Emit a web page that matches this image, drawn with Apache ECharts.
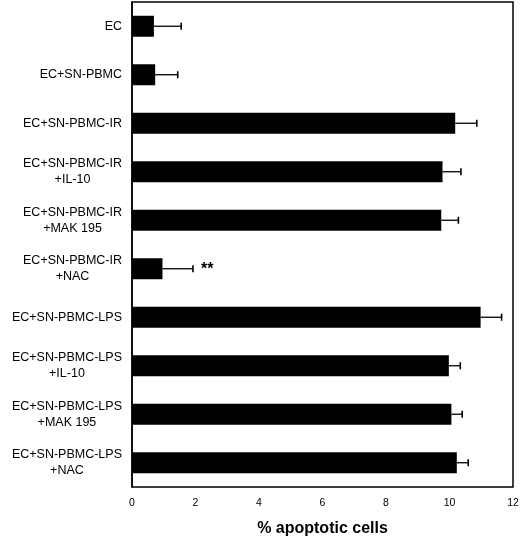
<!DOCTYPE html>
<html>
<head>
<meta charset="utf-8">
<title>apoptotic cells</title>
<script src="https://cdn.jsdelivr.net/npm/echarts@6/dist/echarts.min.js"></script>
<style>
  html, body { margin: 0; padding: 0; background: #fff; }
  #main { width: 520px; height: 537px; }
</style>
</head>
<body>
<div id="main"></div>
<script type="text/javascript">
// conditions, top to bottom
var categories = [
  'EC',
  'EC+SN-PBMC',
  'EC+SN-PBMC-IR',
  'EC+SN-PBMC-IR\n+IL-10',
  'EC+SN-PBMC-IR\n+MAK 195',
  'EC+SN-PBMC-IR\n+NAC',
  'EC+SN-PBMC-LPS',
  'EC+SN-PBMC-LPS\n+IL-10',
  'EC+SN-PBMC-LPS\n+MAK 195',
  'EC+SN-PBMC-LPS\n+NAC'
];
// mean % apoptotic cells
var means = [0.69, 0.73, 10.18, 9.78, 9.74, 0.96, 10.98, 9.98, 10.06, 10.23];
// upper error (SD)
var errors = [0.86, 0.71, 0.68, 0.58, 0.54, 0.96, 0.66, 0.36, 0.34, 0.36];
// significance marks
var notes = ['', '', '', '', '', '**', '', '', '', ''];
var xTicks = { min: 0, max: 12, step: 2 };

var font = '"Liberation Sans", Arial, Helvetica, sans-serif';

var errData = means.map(function (m, i) {
  return [m, i, m + errors[i]];
});

var myChart = echarts.init(document.getElementById('main'));

var option = {
  animation: false,
  grid: {
    left: 132, right: 7, top: 2, bottom: 50,
    containLabel: false,
    outerBoundsMode: 'none',
    show: true, borderColor: '#000', borderWidth: 1.5
  },
  xAxis: {
    type: 'value',
    min: xTicks.min, max: xTicks.max, interval: xTicks.step,
    name: '% apoptotic cells',
    nameLocation: 'middle',
    nameGap: 34,
    nameTextStyle: { fontFamily: font, fontSize: 16, fontWeight: 'bold', color: '#000' },
    axisLine: { lineStyle: { color: '#000', width: 1.5 } },
    axisTick: { length: 3, lineStyle: { color: '#000' } },
    axisLabel: { fontFamily: font, fontSize: 10.5, color: '#000', margin: 11 },
    splitLine: { show: false }
  },
  yAxis: [{
    type: 'category',
    data: categories,
    inverse: true,
    axisLine: { lineStyle: { color: '#000', width: 1.5 } },
    axisTick: { length: 4, lineStyle: { color: '#555' } },
    axisLabel: {
      margin: 10,
      fontFamily: font,
      fontSize: 12.5,
      color: '#000',
      formatter: function (v) {
        return v.split('\n').map(function (s) { return '{c|' + s + '}'; }).join('\n');
      },
      rich: {
        c: { align: 'center', fontFamily: font, fontSize: 12.5, lineHeight: 16, color: '#000' }
      }
    }
  }, {
    type: 'category',
    data: categories,
    inverse: true,
    position: 'left',
    axisLine: { show: false },
    axisTick: { inside: true, length: 4, lineStyle: { color: '#555' } },
    axisLabel: { show: false }
  }],
  series: [{
    type: 'bar',
    data: means,
    barWidth: 21,
    itemStyle: { color: '#000' },
    z: 2
  }, {
    type: 'custom',
    data: errData,
    encode: { x: [0, 2], y: 1 },
    z: 3,
    renderItem: function (params, api) {
      var i = api.value(1);
      var lo = api.coord([api.value(0), i]);
      var hi = api.coord([api.value(2), i]);
      var cap = 3.5;
      var children = [{
        type: 'line',
        shape: { x1: lo[0], y1: lo[1], x2: hi[0], y2: hi[1] },
        style: { stroke: '#000', lineWidth: 1.3 }
      }, {
        type: 'line',
        shape: { x1: hi[0], y1: hi[1] - cap, x2: hi[0], y2: hi[1] + cap },
        style: { stroke: '#000', lineWidth: 1.6 }
      }];
      if (notes[params.dataIndex]) {
        children.push({
          type: 'text',
          x: hi[0] + 8,
          y: hi[1] + 1,
          style: {
            text: notes[params.dataIndex],
            font: 'bold 16px ' + font,
            fill: '#000',
            textVerticalAlign: 'middle'
          }
        });
      }
      return { type: 'group', children: children };
    }
  }]
};

myChart.setOption(option);
</script>
</body>
</html>
